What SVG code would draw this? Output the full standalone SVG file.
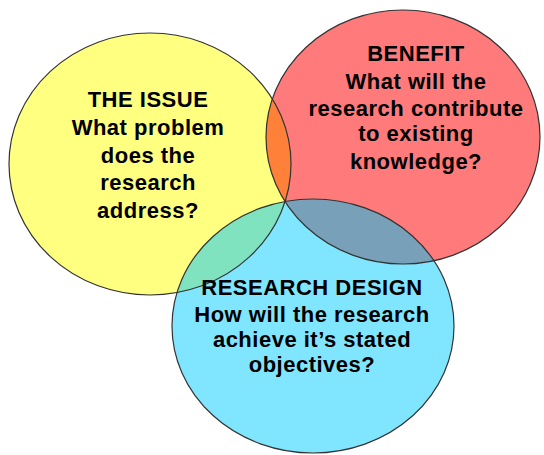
<svg xmlns="http://www.w3.org/2000/svg" width="544" height="455" viewBox="0 0 544 455">
  <style>
    .lbl { font-family: "Liberation Sans", Arial, sans-serif; font-weight: bold; font-size: 22px; letter-spacing: 0.5px; fill: #000; text-anchor: middle; }
    .outline { fill: none; stroke: #333; stroke-width: 1.2; }
  </style>
  <defs>
    <clipPath id="clipRed"><ellipse cx="403" cy="137" rx="137" ry="127"/></clipPath>
    <clipPath id="clipCyan"><ellipse cx="313" cy="326" rx="141" ry="127"/></clipPath>
  </defs>
  <rect width="544" height="455" fill="#fff"/>
  <g id="issue">
    <ellipse cx="150" cy="164" rx="141" ry="131" fill="#FFFF80"/>
  </g>
  <g id="benefit">
    <ellipse cx="403" cy="137" rx="137" ry="127" fill="#FF7B7B"/>
  </g>
  <g id="design">
    <ellipse cx="313" cy="326" rx="141" ry="127" fill="#80E6FF"/>
  </g>
  <g id="overlaps">
    <ellipse cx="150" cy="164" rx="141" ry="131" fill="#FF8038" clip-path="url(#clipRed)"/>
    <ellipse cx="150" cy="164" rx="141" ry="131" fill="#80E3C0" clip-path="url(#clipCyan)"/>
    <ellipse cx="403" cy="137" rx="137" ry="127" fill="#78A0B8" clip-path="url(#clipCyan)"/>
  </g>
  <g id="outlines">
    <ellipse class="outline" cx="150" cy="164" rx="141" ry="131"/>
    <ellipse class="outline" cx="403" cy="137" rx="137" ry="127"/>
    <ellipse class="outline" cx="313" cy="326" rx="141" ry="127"/>
  </g>
  <g id="issue-text">
    <text class="lbl" x="148" y="107">THE ISSUE</text>
    <text class="lbl" x="148" y="135">What problem</text>
    <text class="lbl" x="148" y="163">does the</text>
    <text class="lbl" x="148" y="190">research</text>
    <text class="lbl" x="148" y="218">address?</text>
  </g>
  <g id="benefit-text">
    <text class="lbl" x="416" y="61">BENEFIT</text>
    <text class="lbl" x="416" y="89">What will the</text>
    <text class="lbl" x="416" y="116">research contribute</text>
    <text class="lbl" x="416" y="141">to existing</text>
    <text class="lbl" x="416" y="169">knowledge?</text>
  </g>
  <g id="design-text">
    <text class="lbl" x="312" y="295">RESEARCH DESIGN</text>
    <text class="lbl" x="312" y="322">How will the research</text>
    <text class="lbl" x="312" y="347">achieve it’s stated</text>
    <text class="lbl" x="312" y="372">objectives?</text>
  </g>
</svg>
